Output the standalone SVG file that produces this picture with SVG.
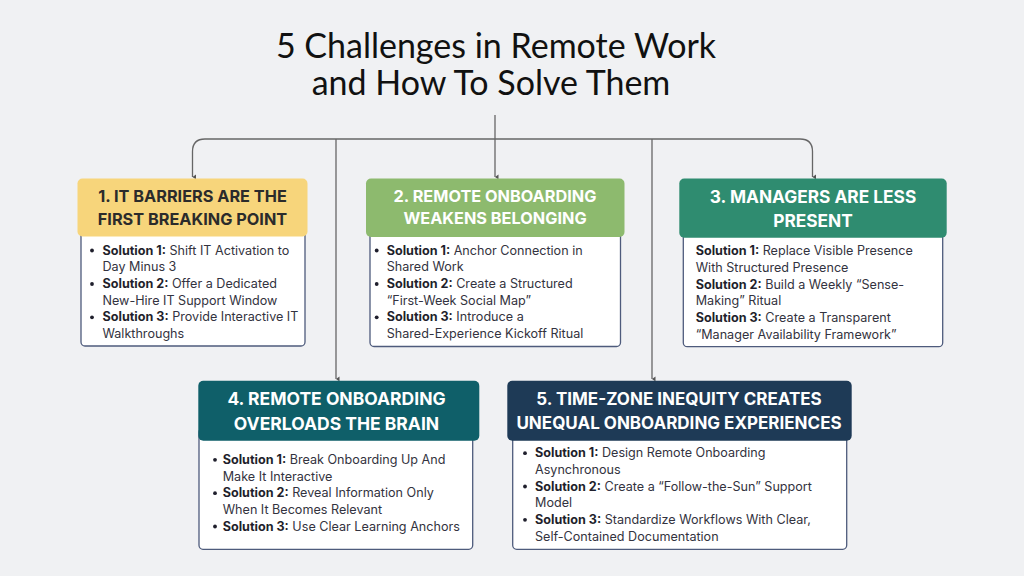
<svg xmlns="http://www.w3.org/2000/svg" width="1024" height="576" viewBox="0 0 1024 576">
<defs>
<marker id="arr" viewBox="0 0 6 6" refX="3" refY="5.5" markerWidth="6" markerHeight="6" markerUnits="userSpaceOnUse" orient="auto-start-reverse">
<path d="M0.5,2 L5.5,2 L3,5.5 Z" fill="#555"/>
</marker>
<style>
.title{font-family:Lato,"Open Sans",sans-serif;font-size:34px;fill:#111;text-anchor:middle}
.hd{font-family:Inter,"Liberation Sans",sans-serif;font-weight:700;text-anchor:middle}
.hdw{fill:#ffffff}
.hdd{fill:#2b2b2b}
.body{fill:#ffffff;stroke:#4e5b7c;stroke-width:1.3}
.tx{font-family:Inter,"Liberation Sans",sans-serif;font-size:12.6px;fill:#333340}
.b{font-weight:700;fill:#1f1f2c}
.conn{fill:none;stroke:#666;stroke-width:1.3}
</style>
</defs>
<rect width="1024" height="576" fill="#f0f1f3"/>
<g id="title">
<text class="title" x="496" y="58">5 Challenges in Remote Work</text>
<text class="title" x="491" y="95">and How To Solve Them</text>
</g>
<g id="connectors">
<path class="conn" d="M495,115 V139"/>
<path class="conn" d="M205,139 H800"/>
<path class="conn" d="M205,139 Q192.5,139 192.5,151.5 V177" marker-end="url(#arr)"/>
<path class="conn" d="M800,139 Q812.5,139 812.5,151.5 V177" marker-end="url(#arr)"/>
<path class="conn" d="M495,139 V177" marker-end="url(#arr)"/>
<path class="conn" d="M336,139 V379" marker-end="url(#arr)"/>
<path class="conn" d="M652,139 V379" marker-end="url(#arr)"/>
</g>
<g id="node1">
<rect class="body" x="81" y="225" width="224" height="121" rx="4"/>
<rect x="77.5" y="178.5" width="230" height="58" rx="5" fill="#f7d57b"/>
<text class="hd hdd" x="192.5" y="202" font-size="16.3">1. IT BARRIERS ARE THE</text>
<text class="hd hdd" x="192.5" y="224.5" font-size="16.3">FIRST BREAKING POINT</text>
<g class="tx">
<circle cx="92" cy="250.5" r="1.9" fill="#1f1f2c"/>
<circle cx="92" cy="284" r="1.9" fill="#1f1f2c"/>
<circle cx="92" cy="317.3" r="1.9" fill="#1f1f2c"/>
<text x="102.5" y="254.5"><tspan class="b">Solution 1:</tspan> Shift IT Activation to</text>
<text x="102.5" y="271.2">Day Minus 3</text>
<text x="102.5" y="287.9"><tspan class="b">Solution 2:</tspan> Offer a Dedicated</text>
<text x="102.5" y="304.6">New-Hire IT Support Window</text>
<text x="102.5" y="321.3"><tspan class="b">Solution 3:</tspan> Provide Interactive IT</text>
<text x="102.5" y="338">Walkthroughs</text>
</g>
</g>
<g id="node2">
<rect class="body" x="370" y="225" width="250.5" height="121.5" rx="4"/>
<rect x="366" y="178.5" width="258.5" height="58.5" rx="5" fill="#8dba6e"/>
<text class="hd hdw" x="495" y="201.8" font-size="16.3">2. REMOTE ONBOARDING</text>
<text class="hd hdw" x="495" y="223.8" font-size="16.3">WEAKENS BELONGING</text>
<g class="tx">
<circle cx="376.7" cy="250.5" r="1.9" fill="#1f1f2c"/>
<circle cx="376.7" cy="284" r="1.9" fill="#1f1f2c"/>
<circle cx="376.7" cy="317.3" r="1.9" fill="#1f1f2c"/>
<text x="386.7" y="254.5"><tspan class="b">Solution 1:</tspan> Anchor Connection in</text>
<text x="386.7" y="271.2">Shared Work</text>
<text x="386.7" y="287.9"><tspan class="b">Solution 2:</tspan> Create a Structured</text>
<text x="386.7" y="304.6">“First-Week Social Map”</text>
<text x="386.7" y="321.3"><tspan class="b">Solution 3:</tspan> Introduce a</text>
<text x="386.7" y="338">Shared-Experience Kickoff Ritual</text>
</g>
</g>
<g id="node3">
<rect class="body" x="683.3" y="225" width="259.4" height="121.7" rx="4"/>
<rect x="679.3" y="178.5" width="267.4" height="59.2" rx="5" fill="#2f8c70"/>
<text class="hd hdw" x="813" y="203" font-size="17.3">3. MANAGERS ARE LESS</text>
<text class="hd hdw" x="813" y="227" font-size="17.3">PRESENT</text>
<g class="tx">
<text x="695.7" y="255.2"><tspan class="b">Solution 1:</tspan> Replace Visible Presence</text>
<text x="695.7" y="271.9">With Structured Presence</text>
<text x="695.7" y="288.6"><tspan class="b">Solution 2:</tspan> Build a Weekly “Sense-</text>
<text x="695.7" y="305.3">Making” Ritual</text>
<text x="695.7" y="322"><tspan class="b">Solution 3:</tspan> Create a Transparent</text>
<text x="695.7" y="338.7">“Manager Availability Framework”</text>
</g>
</g>
<g id="node4">
<rect class="body" x="199" y="428" width="273.7" height="121.3" rx="4"/>
<rect x="198.3" y="380.7" width="281" height="60" rx="5" fill="#0f5f69"/>
<text class="hd hdw" x="336.5" y="404.5" font-size="17.5">4. REMOTE ONBOARDING</text>
<text class="hd hdw" x="336.5" y="429.5" font-size="17.5">OVERLOADS THE BRAIN</text>
<g class="tx">
<circle cx="215" cy="459.8" r="1.9" fill="#1f1f2c"/>
<circle cx="215" cy="493.2" r="1.9" fill="#1f1f2c"/>
<circle cx="215" cy="526.5" r="1.9" fill="#1f1f2c"/>
<text x="222.7" y="463.8"><tspan class="b">Solution 1:</tspan> Break Onboarding Up And</text>
<text x="222.7" y="480.5">Make It Interactive</text>
<text x="222.7" y="497.2"><tspan class="b">Solution 2:</tspan> Reveal Information Only</text>
<text x="222.7" y="513.9">When It Becomes Relevant</text>
<text x="222.7" y="530.6"><tspan class="b">Solution 3:</tspan> Use Clear Learning Anchors</text>
</g>
</g>
<g id="node5">
<rect class="body" x="512.7" y="428" width="334" height="121.3" rx="4"/>
<rect x="507.3" y="380.7" width="344.4" height="60" rx="5" fill="#1e3a56"/>
<text class="hd hdw" x="679" y="405" font-size="17">5. TIME-ZONE INEQUITY CREATES</text>
<text class="hd hdw" x="679" y="428.5" font-size="17">UNEQUAL ONBOARDING EXPERIENCES</text>
<g class="tx">
<circle cx="525" cy="453.2" r="1.9" fill="#1f1f2c"/>
<circle cx="525" cy="486.5" r="1.9" fill="#1f1f2c"/>
<circle cx="525" cy="519.8" r="1.9" fill="#1f1f2c"/>
<text x="535" y="457.2"><tspan class="b">Solution 1:</tspan> Design Remote Onboarding</text>
<text x="535" y="473.9">Asynchronous</text>
<text x="535" y="490.6"><tspan class="b">Solution 2:</tspan> Create a “Follow-the-Sun” Support</text>
<text x="535" y="507.3">Model</text>
<text x="535" y="524"><tspan class="b">Solution 3:</tspan> Standardize Workflows With Clear,</text>
<text x="535" y="540.7">Self-Contained Documentation</text>
</g>
</g>
</svg>
